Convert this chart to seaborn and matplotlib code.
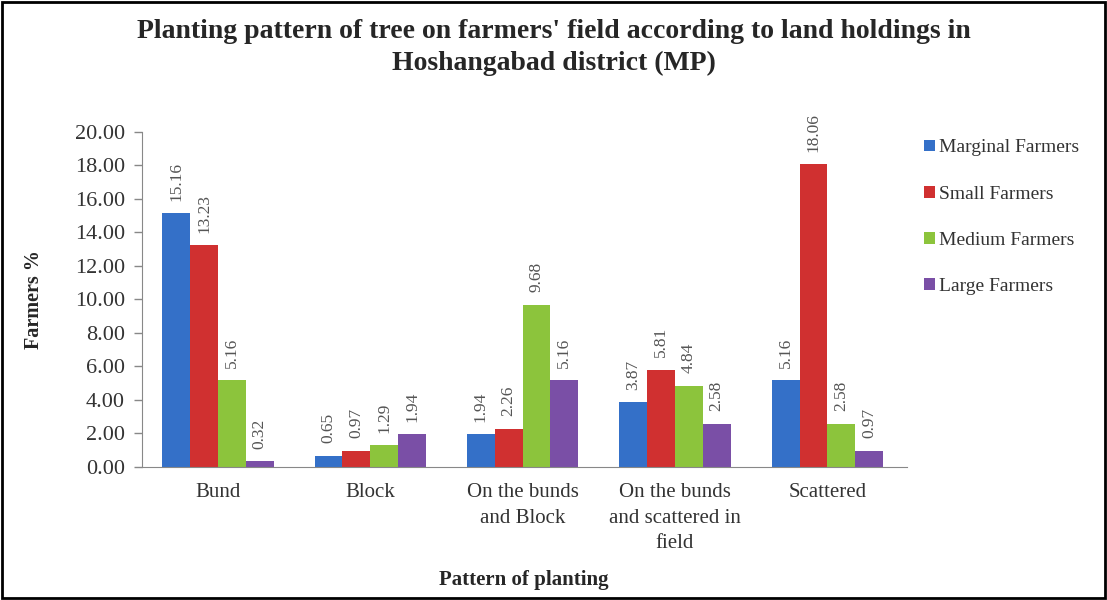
import matplotlib
matplotlib.use("Agg")
import matplotlib.pyplot as plt
import seaborn as sns
import pandas as pd
from matplotlib.patches import Rectangle

categories = ["Bund", "Block", "On the bunds\nand Block",
              "On the bunds\nand scattered in\nfield", "Scattered"]
series = ["Marginal Farmers", "Small Farmers", "Medium Farmers", "Large Farmers"]
marginal = [15.16, 0.65, 1.94, 3.87, 5.16]
small = [13.23, 0.97, 2.26, 5.81, 18.06]
medium = [5.16, 1.29, 9.68, 4.84, 2.58]
large = [0.32, 1.94, 5.16, 2.58, 0.97]
colors = ["#3470C8", "#D03030", "#8CC43C", "#7A4FA6"]

rows = []
for s, vals in zip(series, [marginal, small, medium, large]):
    for c, v in zip(categories, vals):
        rows.append({"Pattern": c, "Series": s, "Value": v})
df = pd.DataFrame(rows)

sns.set_style("white")
SERIF = ["Liberation Serif", "DejaVu Serif"]
plt.rcParams["font.family"] = SERIF
plt.rcParams["font.serif"] = SERIF

fig = plt.figure(figsize=(11.07, 6.0), dpi=100)
ax = fig.add_axes([0.128, 0.222, 0.691, 0.558])
sns.barplot(data=df, x="Pattern", y="Value", hue="Series", palette=colors,
            order=categories, hue_order=series, width=0.73, ax=ax,
            saturation=1, edgecolor="none", legend=True)

for cont in ax.containers:
    ax.bar_label(cont, labels=[f"{v:.2f}" for v in cont.datavalues],
                 rotation=90, padding=9, fontsize=12.5, color="#555555",
                 family=SERIF)

ax.set_ylim(0, 20)
ax.set_xlim(-0.5, 4.52)
ax.set_yticks([i * 2 for i in range(11)])
ax.set_yticklabels([f"{i * 2:.2f}" for i in range(11)], fontsize=16, family=SERIF,
                   color="#333333")
ax.set_xticks(range(len(categories)))
ax.set_xticklabels(categories, fontsize=15, family=SERIF, linespacing=1.45,
                   color="#333333")
ax.tick_params(axis="x", length=0, pad=12)
ax.tick_params(axis="y", length=6, width=1, left=True, color="#888888", pad=6)
for sp in ["top", "right"]:
    ax.spines[sp].set_visible(False)
ax.spines["left"].set_color("#888888")
ax.spines["bottom"].set_color("#888888")

ax.set_ylabel("Farmers %", fontsize=14.5, fontweight="bold", labelpad=22, family=SERIF)
ax.set_xlabel("Pattern of planting", fontsize=15, fontweight="bold", labelpad=12, family=SERIF)

fig.suptitle("Planting pattern of tree on farmers' field according to land holdings in\nHoshangabad district (MP)",
             fontsize=20, fontweight="bold", y=0.968, linespacing=1.35, family=SERIF)

leg = ax.legend(loc="upper left", bbox_to_anchor=(1.0, 1.03), frameon=False,
                prop={"family": SERIF, "size": 14}, handlelength=0.55,
                handleheight=0.55, handletextpad=0.2, labelspacing=1.5)
for t in leg.get_texts():
    t.set_color("#333333")

fig.patches.append(Rectangle((0.002, 0.003), 0.996, 0.994, transform=fig.transFigure,
                             fill=False, edgecolor="black", linewidth=2))

fig.savefig("out.png", dpi=100)
